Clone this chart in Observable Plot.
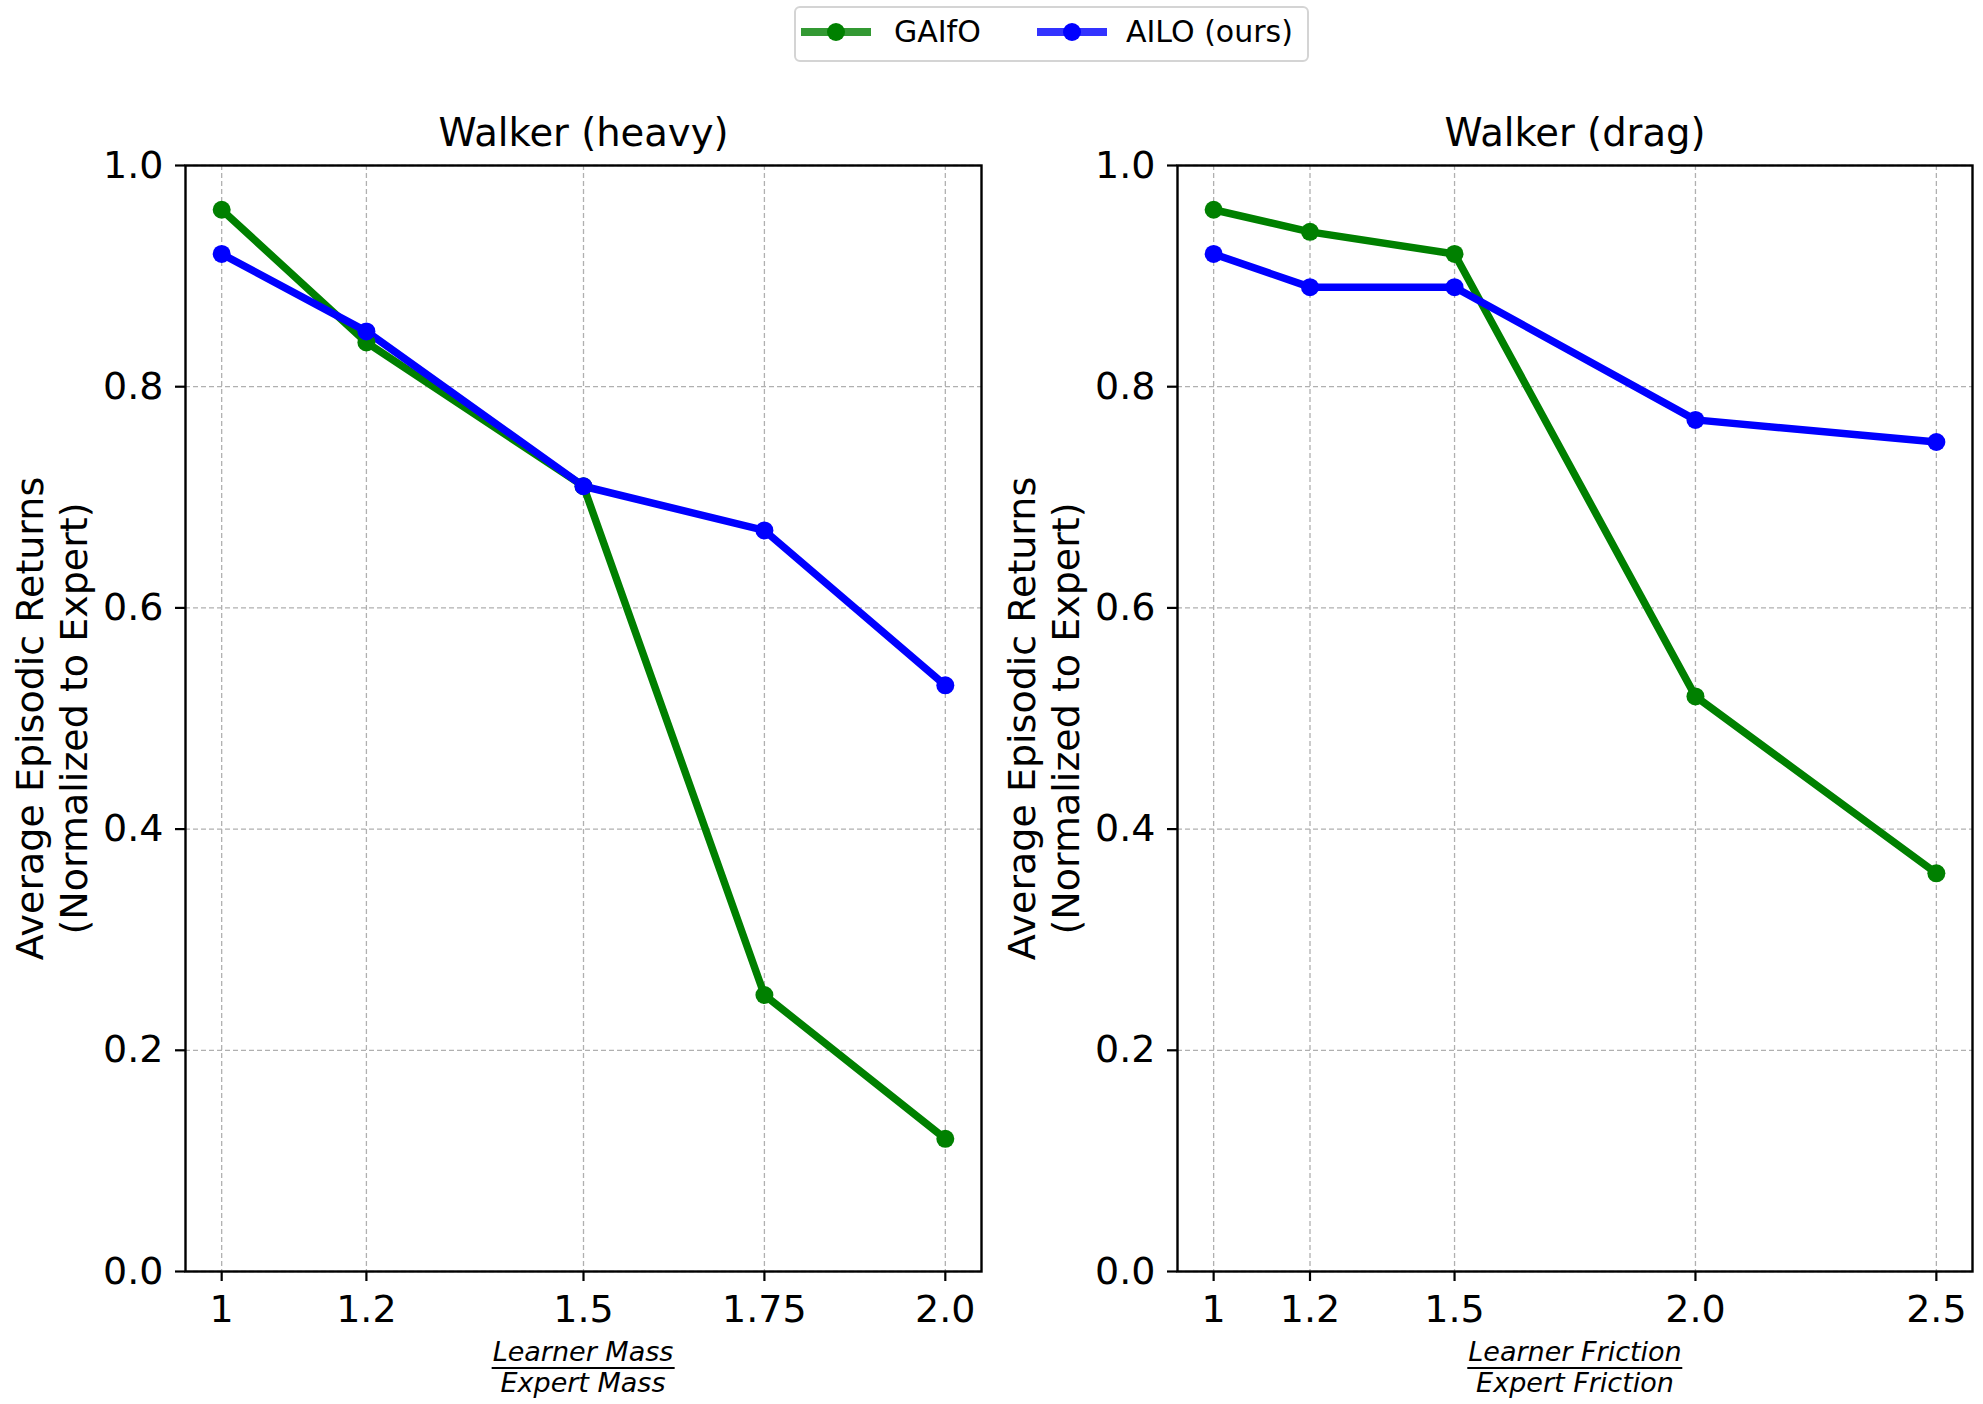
<!DOCTYPE html>
<html>
<head>
<meta charset="utf-8">
<script src="https://cdn.jsdelivr.net/npm/d3@7"></script>
<script src="https://cdn.jsdelivr.net/npm/@observablehq/plot@0.6"></script>
<style>
  html, body { margin: 0; padding: 0; background: #fff; }
  #root { position: relative; width: 1983px; height: 1404px; overflow: hidden; font-family: "DejaVu Sans", sans-serif; }
  .panel { position: absolute; top: 0; }
  .legend { position: absolute; left: 794px; top: 6px; width: 515px; height: 56px; box-sizing: border-box;
            border: 2px solid #d4d4d4; border-radius: 6px; background: #fff; }
  .swatch { position: absolute; top: 20px; width: 70px; height: 8px; }
  .mk { position: absolute; top: 15px; width: 18px; height: 18px; border-radius: 50%; }
  .ltxt { position: absolute; top: -2px; line-height: 52px; font-size: 30px; white-space: nowrap; color: #000; }
  .frac { position: absolute; top: 1337px; transform: translateX(-50%); display: flex; flex-direction: column; align-items: center;
          font-family: "DejaVu Sans", sans-serif; font-style: italic; font-size: 27px; color: #000; }
  .frac .num { line-height: 30px; border-bottom: 2px solid #000; padding: 0 1px; white-space: nowrap; }
  .frac .den { line-height: 28px; white-space: nowrap; }
</style>
</head>
<body>
<div id="root"></div>
<script>
// ---- data ----
const seriesNames = ["GAIfO", "AILO (ours)"];
const seriesColors = ["#008000", "#0000ff"];
const legendLineColors = ["rgba(0,128,0,0.8)", "rgba(0,0,255,0.8)"];

const heavyX = [1, 1.2, 1.5, 1.75, 2.0];
const heavyXLabels = ["1", "1.2", "1.5", "1.75", "2.0"];
const heavyGAIfO = [0.96, 0.84, 0.71, 0.25, 0.12];
const heavyAILO = [0.92, 0.85, 0.71, 0.67, 0.53];

const dragX = [1, 1.2, 1.5, 2.0, 2.5];
const dragXLabels = ["1", "1.2", "1.5", "2.0", "2.5"];
const dragGAIfO = [0.96, 0.94, 0.92, 0.52, 0.36];
const dragAILO = [0.92, 0.89, 0.89, 0.77, 0.75];

const yTicks = [0, 0.2, 0.4, 0.6, 0.8, 1.0];
const yLabel = "Average Episodic Returns\n(Normalized to Expert)";
const titles = ["Walker (heavy)", "Walker (drag)"];
const xLabelTop = ["Learner Mass", "Learner Friction"];
const xLabelBottom = ["Expert Mass", "Expert Friction"];

const root = document.getElementById("root");

function makePanel(xs, labels, gaifo, ailo, xDomain, title, marginRight) {
  const rows = [];
  xs.forEach((x, i) => rows.push({x, y: gaifo[i], s: seriesNames[0]}));
  xs.forEach((x, i) => rows.push({x, y: ailo[i], s: seriesNames[1]}));
  const fmtX = d => labels[xs.indexOf(d)];
  const axisStyle = {fontSize: 38, tickSize: 10, strokeWidth: 2.2};
  return Plot.plot({
    width: 991,
    height: 1404,
    marginLeft: 185,
    marginRight: marginRight,
    marginTop: 165,
    marginBottom: 133,
    style: {fontFamily: "DejaVu Sans", fontSize: "38px", background: "transparent", color: "#000", overflow: "visible"},
    x: {domain: xDomain},
    y: {domain: [0, 1]},
    color: {domain: seriesNames, range: seriesColors},
    marks: [
      Plot.gridX(xs, {stroke: "#b0b0b0", strokeOpacity: 1, strokeWidth: 1.3, strokeDasharray: "5,3"}),
      Plot.gridY(yTicks, {stroke: "#b0b0b0", strokeOpacity: 1, strokeWidth: 1.3, strokeDasharray: "5,3"}),
      Plot.axisX(xs, {...axisStyle, tickPadding: 14, tickFormat: fmtX, label: null}),
      Plot.axisY(yTicks, {...axisStyle, tickPadding: 12, tickFormat: d3.format(".1f"), label: null}),
      Plot.frame({stroke: "#000", strokeWidth: 2.4}),
      Plot.line(rows, {x: "x", y: "y", z: "s", stroke: "s", strokeWidth: 7.5, strokeLinejoin: "round", strokeLinecap: "butt"}),
      Plot.dot(rows, {x: "x", y: "y", fill: "s", r: 9, stroke: null}),
      Plot.text([title], {frameAnchor: "top", lineAnchor: "bottom", dy: -20, fontSize: 38.5, fill: "#000"}),
      Plot.text([yLabel], {frameAnchor: "left", textAnchor: "middle", rotate: -90, dx: -135, lineAnchor: "middle", lineHeight: 1.16, fontSize: 38, fill: "#000"})
    ]
  });
}

const p1 = makePanel(heavyX, heavyXLabels, heavyGAIfO, heavyAILO, [0.95, 2.05], titles[0], 10);
p1.classList.add("panel"); p1.style.left = "0px";
root.appendChild(p1);

const p2 = makePanel(dragX, dragXLabels, dragGAIfO, dragAILO, [0.925, 2.575], titles[1], 11);
p2.classList.add("panel"); p2.style.left = "992px";
root.appendChild(p2);

// x-axis fraction labels
const fracCenters = [583, 1575];
fracCenters.forEach((cx, i) => {
  const f = document.createElement("div");
  f.className = "frac";
  f.style.left = cx + "px";
  const num = document.createElement("span"); num.className = "num"; num.textContent = xLabelTop[i];
  const den = document.createElement("span"); den.className = "den"; den.textContent = xLabelBottom[i];
  f.appendChild(num); f.appendChild(den);
  root.appendChild(f);
});

// legend
const legend = document.createElement("div");
legend.className = "legend";
const itemLefts = [5, 241];
const textLefts = [98, 330];
seriesNames.forEach((name, i) => {
  const sw = document.createElement("div");
  sw.className = "swatch";
  sw.style.left = itemLefts[i] + "px";
  sw.style.background = legendLineColors[i];
  legend.appendChild(sw);
  const mk = document.createElement("div");
  mk.className = "mk";
  mk.style.left = (itemLefts[i] + 26) + "px";
  mk.style.background = seriesColors[i];
  legend.appendChild(mk);
  const t = document.createElement("div");
  t.className = "ltxt";
  t.style.left = textLefts[i] + "px";
  t.textContent = name;
  legend.appendChild(t);
});
root.appendChild(legend);
</script>
</body>
</html>
